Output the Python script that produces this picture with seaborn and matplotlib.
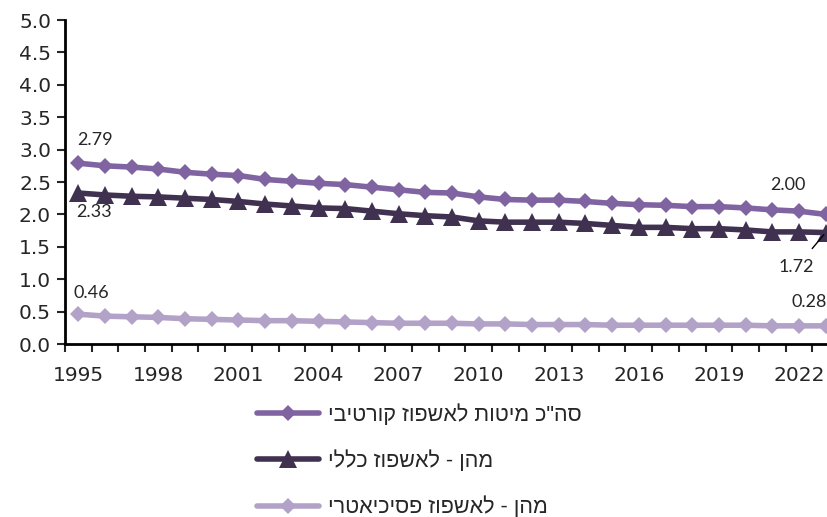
import seaborn as sns
import numpy as np
import pandas as pd
import matplotlib.pyplot as plt

years = list(range(1995, 2024))
total_beds = [2.79, 2.75, 2.73, 2.70, 2.65, 2.62, 2.60, 2.54, 2.51, 2.48, 2.46, 2.42, 2.38,
              2.34, 2.33, 2.27, 2.23, 2.22, 2.22, 2.20, 2.17, 2.15, 2.14, 2.12, 2.12, 2.10,
              2.07, 2.05, 2.00]
general_beds = [2.33, 2.30, 2.28, 2.27, 2.25, 2.23, 2.20, 2.16, 2.13, 2.10, 2.09, 2.05, 2.01,
                1.98, 1.96, 1.90, 1.88, 1.88, 1.88, 1.86, 1.83, 1.80, 1.80, 1.78, 1.78, 1.76,
                1.73, 1.73, 1.72]
psych_beds = [0.46, 0.43, 0.42, 0.41, 0.39, 0.38, 0.37, 0.36, 0.36, 0.35, 0.34, 0.33, 0.32,
              0.32, 0.32, 0.31, 0.31, 0.30, 0.30, 0.30, 0.29, 0.29, 0.29, 0.29, 0.29, 0.29,
              0.28, 0.28, 0.28]
labels = ['סה"כ מיטות לאשפוז קורטיבי', 'מהן - לאשפוז כללי', 'מהן - לאשפוז פסיכיאטרי']
tick_years = [1995, 1998, 2001, 2004, 2007, 2010, 2013, 2016, 2019, 2022]

# matplotlib has no bidi support, so hebrew is reversed by hand
def rtl(s):
    return s[::-1]

sns.set_style('white')
plt.rcParams['font.family'] = ['DejaVu Sans']

fig = plt.figure(figsize=(8.27, 5.17), dpi=100)
ax = fig.add_axes([65 / 827, 173 / 517, 774 / 827, 324 / 517])

sns.lineplot(x=years, y=total_beds, ax=ax, color='#8064A2', linewidth=4, marker='D',
             markersize=8, markeredgewidth=0, label=rtl(labels[0]))
sns.lineplot(x=years, y=general_beds, ax=ax, color='#403151', linewidth=4, marker='^',
             markersize=13, markeredgewidth=0, label=rtl(labels[1]))
sns.lineplot(x=years, y=psych_beds, ax=ax, color='#B3A2C7', linewidth=4, marker='D',
             markersize=8, markeredgewidth=0, label=rtl(labels[2]))

ax.set_xlim(1994.5, 2023.5)
ax.set_ylim(0, 5)
ax.set_yticks(np.arange(0, 5.01, 0.5))
ax.set_yticklabels([f'{v:.1f}' for v in np.arange(0, 5.01, 0.5)], fontsize=14.5)
# ticks on category boundaries, labels on the categories
ax.set_xticks(np.arange(1994.5, 2024, 1))
ax.set_xticklabels([])
ax.set_xticks(tick_years, minor=True)
ax.set_xticklabels([str(y) for y in tick_years], minor=True, fontsize=14.5)
ax.tick_params(axis='x', which='major', length=6, width=1.5, direction='out', bottom=True)
ax.tick_params(axis='x', which='minor', length=0, pad=16)
ax.tick_params(axis='y', length=6, width=1.5, direction='out', left=True, pad=4)

sns.despine(ax=ax)
for side in ['left', 'bottom']:
    ax.spines[side].set_linewidth(2)
    ax.spines[side].set_color('black')

lab = dict(fontsize=13, family=['Lato', 'DejaVu Sans'], ha='center', va='center',
           textcoords='offset points')
ax.annotate('2.79', (years[0], total_beds[0]), xytext=(12, 17), **lab)
ax.annotate('2.33', (years[0], general_beds[0]), xytext=(11, -14), **lab)
ax.annotate('0.46', (years[0], psych_beds[0]), xytext=(9, 15), **lab)
ax.annotate('2.00', (years[-1], total_beds[-1]), xytext=(-27, 21), **lab)
ax.annotate('0.28', (years[-1], psych_beds[-1]), xytext=(-12, 17), **lab)
ax.annotate('1.72', (years[-1], general_beds[-1]), xytext=(-21, -25),
            arrowprops=dict(arrowstyle='-', color='black', lw=1, shrinkA=7, shrinkB=2), **lab)

ax.legend(loc='center', bbox_to_anchor=(0.507, 0.108), bbox_transform=fig.transFigure,
          frameon=False, handlelength=2.9, labelspacing=1.15, handletextpad=0.4,
          prop={'family': ['Liberation Sans', 'DejaVu Sans'], 'size': 15.5})

plt.savefig('out.png', dpi=100)
